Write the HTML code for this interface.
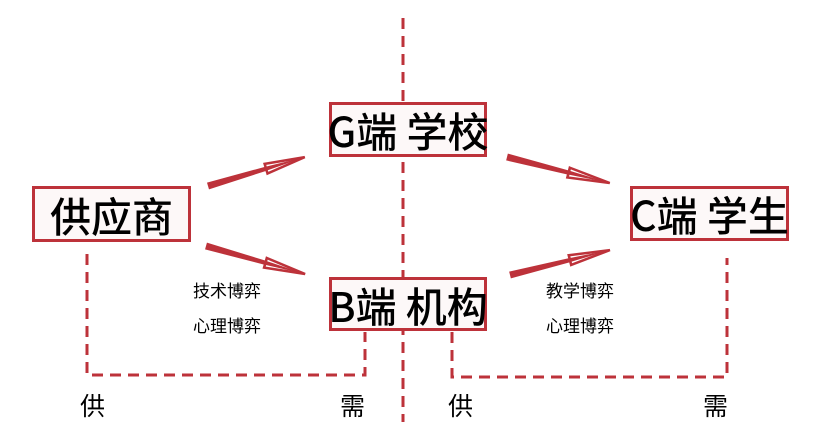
<!DOCTYPE html>
<html><head><meta charset="utf-8"><style>
html,body{margin:0;padding:0;background:#fff;}
body{width:824px;height:440px;position:relative;overflow:hidden;font-family:"Liberation Sans","Noto Sans CJK SC",sans-serif;}
.box{position:absolute;border:3.5px solid #bd323a;background:#fdf8f8;box-sizing:border-box;display:flex;align-items:center;justify-content:center;font-size:41px;color:#000;white-space:nowrap;font-family:"Noto Sans CJK SC",sans-serif;font-weight:500;line-height:1;}
.t{position:absolute;font-family:"Noto Sans CJK SC",sans-serif;color:#000;white-space:nowrap;line-height:1;}
</style></head><body>
<svg width="824" height="440" style="position:absolute;left:0;top:0">
<g stroke="#bd323a" stroke-width="3" fill="none" stroke-dasharray="11,7">
<line x1="403" y1="18" x2="403" y2="422"/>
<polyline points="87,254 87,375 365,375 365,332"/>
<polyline points="452,332 452,377 727,377 727,258"/>
</g>
<defs>
<g id="ar">
<polygon points="0,-3.5 64,-2 64,2 0,3.5" fill="#bd323a"/>
<polygon points="60,-5 100,0 60,5" fill="#fff" stroke="#bd323a" stroke-width="2.5" stroke-linejoin="miter"/>
<polygon points="60,-2 100,0 60,2" fill="#bd323a"/>
</g>
</defs>
<use href="#ar" transform="translate(208,186) rotate(-16.6) scale(1.01,1)"/>
<use href="#ar" transform="translate(206,246) rotate(15.8) scale(1.03,1)"/>
<use href="#ar" transform="translate(507,157) rotate(14.2) scale(1.06,1)"/>
<use href="#ar" transform="translate(510,275) rotate(-14) scale(1.03,1)"/>
</svg>
<div class="box" style="left:329px;top:102px;width:158px;height:55px;">G端 学校</div>
<div class="box" style="left:329px;top:277px;width:158px;height:54px;">B端 机构</div>
<div class="box" style="left:32px;top:186px;width:159px;height:56px;">供应商</div>
<div class="box" style="left:630px;top:186px;width:159px;height:55px;">C端 学生</div>
<div class="t" style="left:193px;top:281px;font-size:17px;">技术博弈</div>
<div class="t" style="left:193px;top:316px;font-size:17px;">心理博弈</div>
<div class="t" style="left:546px;top:281px;font-size:17px;">教学博弈</div>
<div class="t" style="left:546px;top:316px;font-size:17px;">心理博弈</div>
<div class="t" style="left:80px;top:393px;font-size:25px;">供</div>
<div class="t" style="left:340px;top:393px;font-size:25px;">需</div>
<div class="t" style="left:448px;top:393px;font-size:25px;">供</div>
<div class="t" style="left:703px;top:393px;font-size:25px;">需</div>
</body></html>
